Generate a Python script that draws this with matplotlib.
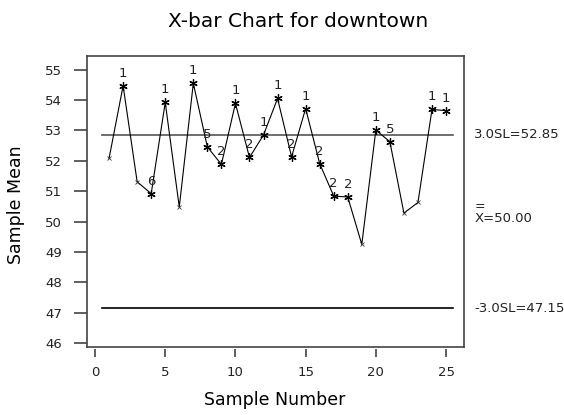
import matplotlib
matplotlib.use('Agg')
import matplotlib.pyplot as plt

# sample means
sample_no = list(range(1, 26))
means = [52.08, 54.47, 51.31, 50.92, 53.92, 50.48, 54.55, 52.46, 51.88, 53.89,
         52.11, 52.85, 54.05, 52.13, 53.72, 51.91, 50.84, 50.81, 49.25, 53.01,
         52.63, 50.28, 50.63, 53.69, 53.65]
# test failure flags ('' = no test failed)
flags = ['', '1', '', '6', '1', '', '1', '5', '2', '1',
         '2', '1', '1', '2', '1', '2', '2', '2', '', '1',
         '5', '', '', '1', '1']
ucl = 52.85
center = 50.00
lcl = 47.15

plt.rcParams['font.family'] = 'DejaVu Sans'
txt = '#222222'
ax_col = '#444444'

fig = plt.figure(figsize=(5.64, 4.15), dpi=100)
ax = fig.add_axes([0.1548, 0.1631, 0.6679, 0.7019])

ax.plot(sample_no, means, color='black', lw=0.8, zorder=3)
for x, y, f in zip(sample_no, means, flags):
    if f:
        ax.plot(x, y, marker=(6, 2, 0), ms=6, mew=0.9, color='black', zorder=4)
        ax.annotate(f, (x, y), xytext=(0, 9), textcoords='offset points',
                    ha='center', va='center', fontsize=9.5, color=txt)
    else:
        ax.plot(x, y, marker='x', ms=3.5, mew=0.6, color='#333333', zorder=4)

ax.plot([0.5, 25.5], [ucl, ucl], color='#555555', lw=1.2)
ax.plot([0.5, 25.5], [lcl, lcl], color='black', lw=1.2)

ax.set_xlim(-0.55, 26.28)
ax.set_ylim(45.865, 55.447)
ax.set_xticks([0, 5, 10, 15, 20, 25])
ax.set_yticks(range(46, 56))

for s in ax.spines.values():
    s.set_color(ax_col)
    s.set_linewidth(1.2)
ax.spines['bottom'].set_position(('outward', 1.5))
ax.spines['bottom'].set_visible(False)
# frame bottom edge
ax.plot([0, 1], [0, 0], transform=ax.transAxes, color=ax_col, lw=1.2, clip_on=False)

ax.tick_params(axis='y', direction='out', length=9.4, width=1.2, pad=9,
               labelsize=9.5, labelcolor=txt, color=ax_col)
ax.tick_params(axis='x', direction='out', length=5.6, width=1.2, pad=6,
               labelsize=9.5, labelcolor=txt, color=ax_col)

# right side limit labels
tr = ax.get_yaxis_transform()
ax.text(1.027, ucl, '3.0SL=52.85', transform=tr, ha='left', va='center',
        fontsize=9.5, color=txt)
ax.text(1.027, lcl, '-3.0SL=47.15', transform=tr, ha='left', va='center',
        fontsize=9.5, color=txt)
ax.text(1.027, center + 0.1, 'X=50.00', transform=tr, ha='left', va='center',
        fontsize=9.5, color=txt)
ax.text(1.027, center + 0.48, '=', transform=tr, ha='left', va='center',
        fontsize=9, color=txt)

fig.text(298 / 564, 388.3 / 415, 'X-bar Chart for downtown', ha='center',
         va='baseline', fontsize=14.5, color='black')
fig.text(16 / 564, 210 / 415, 'Sample Mean', rotation=90, ha='center',
         va='center', fontsize=12.5, color='black')
fig.text(275 / 564, 15 / 415, 'Sample Number', ha='center', va='center',
         fontsize=12.5, color='black')

fig.savefig('out.png', dpi=100)
